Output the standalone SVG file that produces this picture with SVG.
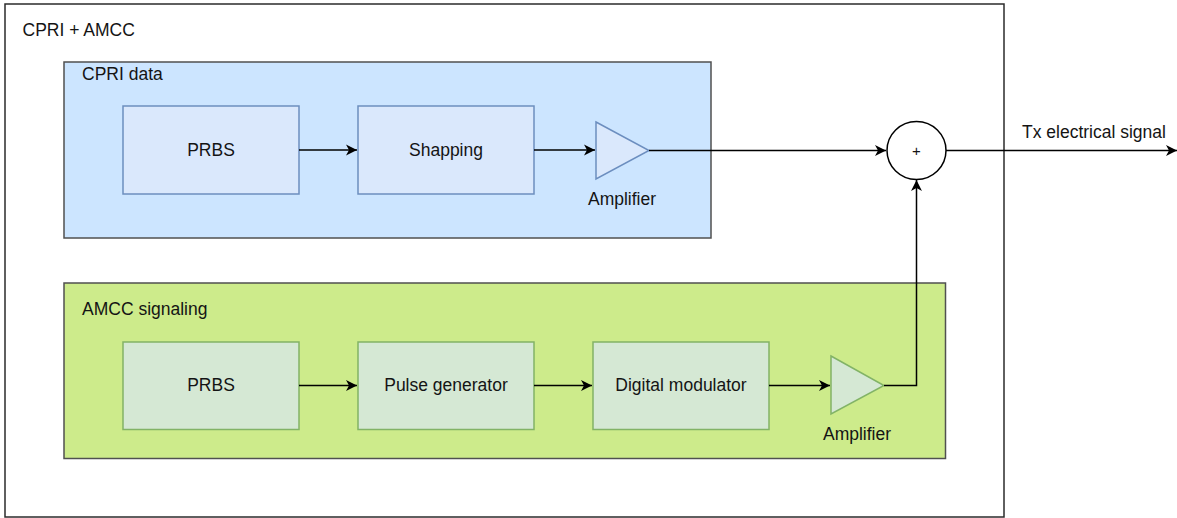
<svg xmlns="http://www.w3.org/2000/svg" width="1177" height="518" viewBox="0 0 1177 518">
  <style>
    text { font-family: "Liberation Sans", Arial, Helvetica, sans-serif; font-size: 17.5px; fill: #141414; }
    .mid { text-anchor: middle; }
    .frame { fill: #ffffff; stroke: #2b2b2b; stroke-width: 1.5; }
    .cont { stroke: #505050; stroke-width: 1.5; }
    .blue-cont { fill: #cce5ff; }
    .green-cont { fill: #cdeb8b; }
    .blue-blk { fill: #dae8fc; stroke: #6c8ebf; stroke-width: 1.5; }
    .green-blk { fill: #d5e8d4; stroke: #82b366; stroke-width: 1.5; }
    .wire { fill: none; stroke: #000000; stroke-width: 1.5; marker-end: url(#arrow); }
  </style>
  <defs>
    <marker id="arrow" markerUnits="userSpaceOnUse" markerWidth="14" markerHeight="14" viewBox="-13 -7 14 14" refX="0" refY="0" orient="auto">
      <path d="M0,0 L-11,-5.5 L-8,0 L-11,5.5 Z" fill="#000000"/>
    </marker>
  </defs>

  <!-- outer frame -->
  <g id="frame">
    <rect class="frame" x="5" y="4" width="999" height="513"/>
    <text x="22.5" y="36">CPRI + AMCC</text>
  </g>

  <!-- CPRI data path -->
  <g id="cpri-data">
    <rect class="cont blue-cont" x="64" y="62" width="647" height="176"/>
    <text x="82" y="80">CPRI data</text>
  </g>
  <g id="cpri-prbs">
    <rect class="blue-blk" x="123" y="106" width="176" height="88"/>
    <text class="mid" x="211" y="155.5">PRBS</text>
  </g>
  <g id="cpri-shaping">
    <rect class="blue-blk" x="358" y="106" width="176" height="88"/>
    <text class="mid" x="446" y="155.5">Shapping</text>
  </g>
  <g id="cpri-amp">
    <path class="blue-blk" d="M596,122 L649,150.5 L596,179 Z"/>
    <text class="mid" x="622" y="205">Amplifier</text>
  </g>

  <!-- AMCC signaling path -->
  <g id="amcc">
    <rect class="cont green-cont" x="64" y="283" width="881.5" height="175.5"/>
    <text x="82" y="315">AMCC signaling</text>
  </g>
  <g id="amcc-prbs">
    <rect class="green-blk" x="123" y="342" width="176" height="87.5"/>
    <text class="mid" x="211" y="391">PRBS</text>
  </g>
  <g id="amcc-pulse">
    <rect class="green-blk" x="358" y="342" width="176" height="87.5"/>
    <text class="mid" x="446" y="391">Pulse generator</text>
  </g>
  <g id="amcc-modulator">
    <rect class="green-blk" x="593" y="342" width="176" height="87.5"/>
    <text class="mid" x="681" y="391">Digital modulator</text>
  </g>
  <g id="amcc-amp">
    <path class="green-blk" d="M831,356 L884,385.5 L831,414 Z"/>
    <text class="mid" x="857" y="440">Amplifier</text>
  </g>

  <!-- summing junction -->
  <g id="sum">
    <ellipse cx="916.5" cy="150.5" rx="29.5" ry="29" fill="#ffffff" stroke="#000000" stroke-width="1.5"/>
    <text class="mid" x="916.5" y="156" style="font-size:15px">+</text>
  </g>

  <g id="output-label">
    <text x="1022" y="138">Tx electrical signal</text>
  </g>

  <!-- connectors -->
  <g id="connectors">
    <path class="wire" d="M299,150 L357,150"/>
    <path class="wire" d="M534,150 L595,150"/>
    <path class="wire" d="M649,150.5 L886,150.5"/>
    <path class="wire" d="M946,150.5 L1177,150.5"/>
    <path class="wire" d="M299,385.5 L357,385.5"/>
    <path class="wire" d="M534,385.5 L592,385.5"/>
    <path class="wire" d="M769,385.5 L830,385.5"/>
    <path class="wire" d="M884,385.5 L916.5,385.5 L916.5,180"/>
  </g>
</svg>
